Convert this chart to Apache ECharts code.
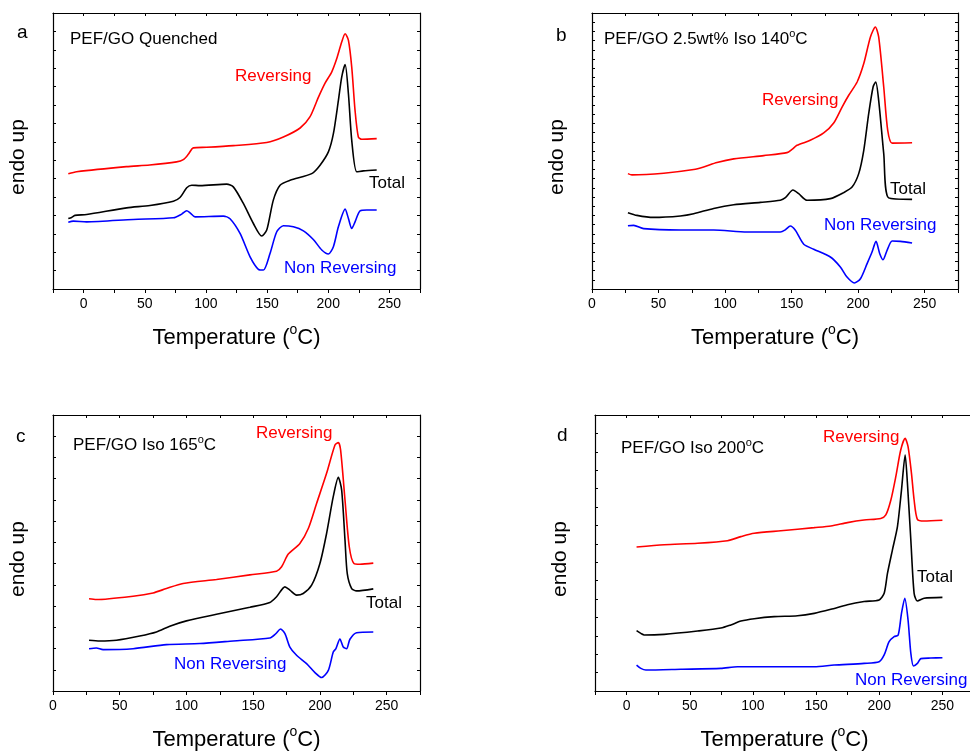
<!DOCTYPE html>
<html>
<head>
<meta charset="utf-8">
<script src="https://cdn.jsdelivr.net/npm/echarts@6/dist/echarts.min.js"></script>
<style>html,body{margin:0;padding:0;background:#fff}#c{width:970px;height:753px}</style>
</head>
<body>
<div id="c"></div>
<script>
// ---- Data (temperature °C, signal in arbitrary units) ----
const xTickLabels = [0, 50, 100, 150, 200, 250];
const panelTitles = ['{n|PEF/GO Quenched}', '{n|PEF/GO 2.5wt% Iso 140}{sup|o}{n|C}', '{n|PEF/GO Iso 165}{sup|o}{n|C}', '{n|PEF/GO Iso 200}{sup|o}{n|C}'];
const panelLetters = ['a', 'b', 'c', 'd'];
const seriesNames = ['Reversing', 'Total', 'Non Reversing'];

const aReversing = [[-12.5,6.26],[-5.7,6.37],[35,6.65],[54,6.74],[76,6.91],[81.5,7.03],[85.6,7.32],[89.7,7.67],[100.6,7.70],[122.4,7.79],[149.7,7.96],[163.3,8.26],[177,8.75],[185,9.35],[192,10.43],[197.4,11.19],[202.8,11.79],[206.9,12.51],[211,13.42],[213.8,13.87],[216.5,13.51],[219.2,12.06],[221.9,9.71],[224.6,8.26],[227.4,8.14],[239.6,8.17]];
const aTotal = [[-12.5,3.83],[-9.8,3.89],[-7.1,4.0],[2.5,4.05],[35.2,4.41],[54.3,4.54],[73.4,4.77],[78.8,4.97],[84.3,5.50],[88.4,5.64],[95.2,5.62],[117,5.70],[122.4,5.55],[130.6,4.65],[138.8,3.56],[145.6,2.88],[149.7,3.20],[155.1,4.83],[160.6,5.64],[168.8,5.91],[186.5,6.27],[193.3,6.73],[200.1,7.45],[204.2,8.44],[208.3,10.25],[211,11.52],[213.8,12.2],[216.5,10.6],[219.2,8.08],[223.3,6.37],[228.7,6.42],[239.6,6.47]];
const aNonReversing = [[-12.5,3.63],[-8.4,3.69],[2.5,3.65],[40.6,3.78],[73.4,3.87],[80.2,4.07],[84.3,4.25],[87,4.14],[91.1,3.92],[114.2,3.96],[119.7,3.82],[127.9,3.02],[136.1,1.75],[142.9,1.07],[147,1.03],[152.4,1.93],[157.9,3.11],[163.3,3.44],[171.5,3.38],[179.7,3.16],[187.8,2.69],[194.7,2.12],[200.1,1.90],[204.2,2.30],[208.3,3.38],[213.8,4.34],[216.5,3.83],[219.2,3.29],[221.9,3.65],[226,4.25],[231.5,4.29],[239.6,4.29]];

const bReversing = [[27,6.27],[30,6.20],[53.9,6.29],[76.4,6.49],[83.9,6.63],[93.9,6.87],[106.5,7.07],[129,7.25],[146.5,7.41],[150.3,7.59],[154,7.81],[164,8.08],[174.1,8.48],[181.6,9.02],[187.9,9.89],[192.9,10.53],[199.2,11.25],[204.2,12.25],[209.2,13.70],[212.9,14.24],[215.4,13.70],[219.2,10.98],[222.2,8.62],[225.5,7.93],[240.5,7.95]];
const bTotal = [[27,4.15],[33.8,4.0],[46.3,3.89],[66.4,3.97],[76.4,4.09],[91.4,4.38],[106.5,4.58],[126.5,4.71],[141.5,4.82],[145.3,4.96],[151,5.38],[155.3,5.18],[161.6,4.82],[179.1,4.91],[189.1,5.24],[195.4,5.54],[200.4,6.27],[204.2,7.54],[207.9,9.53],[211.2,10.98],[213.2,11.25],[215.4,10.25],[219.2,7.36],[222.9,4.95],[240.5,4.87]];
const bNonReversing = [[27,3.44],[31.3,3.46],[38.8,3.28],[66.4,3.21],[91.4,3.21],[116.5,3.10],[141.5,3.10],[145.3,3.22],[149,3.42],[152.8,3.19],[159.1,2.43],[166.6,2.16],[179.1,1.74],[186.6,1.20],[191.6,0.65],[197.1,0.33],[201.7,0.56],[206.7,1.38],[210.4,2.01],[213.4,2.59],[216.2,1.92],[218.7,1.59],[221.7,2.10],[225.5,2.61],[231.7,2.59],[240.5,2.50]];

const cReversing = [[27,5.01],[32.5,4.97],[60,5.15],[75,5.33],[85,5.57],[97.5,5.84],[122.5,6.06],[147.5,6.31],[167.5,6.51],[171.3,6.75],[176.3,7.44],[185,8.02],[191.3,8.83],[197.5,10.19],[205,11.83],[211.3,13.37],[213.8,13.50],[215.5,13.10],[218.8,10.38],[222,7.84],[225.5,6.93],[230,6.89],[240,6.95]];
const cTotal = [[27,2.76],[35,2.72],[47.5,2.76],[65,2.99],[77.5,3.21],[87.5,3.52],[100,3.81],[122.5,4.17],[147.5,4.55],[162.5,4.81],[167.5,5.12],[173.8,5.66],[177.5,5.48],[182.5,5.21],[187.5,5.30],[193.8,5.75],[200,6.93],[205,8.56],[210,10.56],[213.8,11.61],[216.3,10.92],[218.8,8.20],[220.5,6.38],[223.8,5.57],[227.5,5.44],[240,5.55]];
const cNonReversing = [[27,2.30],[32.5,2.34],[37.5,2.25],[60,2.30],[85,2.52],[110,2.58],[135,2.72],[162.5,2.88],[167,3.12],[170.5,3.37],[173.8,3.12],[177.5,2.39],[182.5,1.94],[190,1.49],[196.3,1.00],[201.3,0.73],[206.3,1.12],[210,2.12],[212,2.30],[215,2.83],[217.5,2.39],[220,2.30],[222.5,2.81],[227.5,3.17],[240,3.21]];

const dReversing = [[7.9,7.83],[29.8,7.95],[56.2,8.03],[79.9,8.17],[90.5,8.39],[101,8.57],[122.1,8.71],[148.5,8.88],[161.7,8.97],[174.8,9.15],[188,9.29],[201.2,9.38],[205.2,9.57],[209.2,10.38],[213.1,11.65],[217,13.10],[220.5,13.73],[222.8,13.28],[225.5,11.83],[227.6,10.38],[230.2,9.33],[235.5,9.24],[250,9.28]];
const dTotal = [[7.9,3.28],[11.3,3.13],[14,3.04],[29.8,3.08],[56.2,3.26],[74.6,3.42],[82.5,3.59],[90.5,3.80],[101,3.93],[116.8,4.04],[135.3,4.09],[148.5,4.22],[161.7,4.44],[174.8,4.69],[188,4.86],[199.9,4.95],[203.9,5.31],[206.5,6.39],[210.4,7.66],[214.4,8.93],[217.6,10.92],[220.5,12.83],[222.3,11.29],[225,8.21],[227.6,5.31],[230.2,4.89],[235.5,5.04],[250,5.09]];
const dNonReversing = [[7.9,1.41],[11.3,1.23],[15.3,1.14],[43,1.18],[74.6,1.23],[87.8,1.32],[108.9,1.32],[148.5,1.32],[164.3,1.41],[188,1.50],[199.9,1.59],[203.9,1.96],[207.8,2.68],[211.8,2.95],[215,3.04],[217.6,4.22],[220.2,5.04],[222.8,3.86],[225,2.05],[227.1,1.36],[230.2,1.50],[232.9,1.76],[240.8,1.79],[250,1.81]];

const panelData = [
  [aReversing, aTotal, aNonReversing],
  [bReversing, bTotal, bNonReversing],
  [cReversing, cTotal, cNonReversing],
  [dReversing, dTotal, dNonReversing]
];
// ---- Layout / style ----
const FONT = "'Liberation Sans', Arial, sans-serif";
const colors = ['#ff0000', '#000000', '#0000ff'];
const panels = [
  {left: 53, top: 13, width: 367, height: 276, xmin: -25, yInt: 1},
  {left: 592, top: 13, width: 366, height: 276, xmin: 0, yInt: 0.5},
  {left: 53, top: 415, width: 367, height: 276, xmin: 0, yInt: 15/13},
  {left: 595, top: 415, width: 379, height: 276, xmin: -25, yInt: 1}
];
const titleRich = {
  n: {fontSize: 17, fontFamily: FONT, color: '#000', lineHeight: 20, verticalAlign: 'bottom'},
  sup: {fontSize: 11, fontFamily: FONT, color: '#000', lineHeight: 12, verticalAlign: 'top'}
};
const axisRich = {
  n: {fontSize: 22, fontFamily: FONT, color: '#000', lineHeight: 26, verticalAlign: 'bottom'},
  sup: {fontSize: 14, fontFamily: FONT, color: '#000', lineHeight: 15, verticalAlign: 'top'}
};

// annotation placements (pixel positions of the text labels)
const notes = [
  {letter: [17, 33], title: [70, 38], rev: [235, 76], tot: [369, 183], non: [284, 268]},
  {letter: [556, 36], title: [604, 38], rev: [762, 100], tot: [890, 189], non: [824, 225]},
  {letter: [16, 437], title: [73, 444], rev: [256, 433], tot: [366, 603], non: [174, 664]},
  {letter: [557, 436], title: [621, 447], rev: [823, 437], tot: [917, 577], non: [855, 680]}
];

const grids = [], xAxes = [], yAxes = [], series = [], graphics = [];
panels.forEach((p, i) => {
  grids.push({left: p.left, top: p.top, width: p.width, height: p.height, containLabel: false, outerBoundsMode: 'none'});
  const xBase = {gridIndex: i, type: 'value', min: p.xmin, max: 275, interval: 25,
    axisLine: {show: true, onZero: false, lineStyle: {color: '#000', width: 1.2}},
    splitLine: {show: false}};
  xAxes.push(Object.assign({}, xBase, {position: 'bottom',
    axisTick: {show: true, inside: false, length: 4, lineStyle: {color: '#000'}},
    axisLabel: {show: true, customValues: xTickLabels, color: '#000', fontSize: 14, fontFamily: FONT, margin: 8},
    name: '{n|Temperature (}{sup|o}{n|C)}', nameLocation: 'middle', nameGap: 34,
    nameTextStyle: {fontSize: 22, fontFamily: FONT, color: '#000', rich: axisRich}}));
  xAxes.push(Object.assign({}, xBase, {position: 'top',
    axisTick: {show: true, inside: true, length: 3, lineStyle: {color: '#000'}},
    axisLabel: {show: false}}));
  const yBase = {gridIndex: i, type: 'value', min: 0, max: 15, interval: p.yInt,
    axisLine: {show: true, onZero: false, lineStyle: {color: '#000', width: 1.2}},
    axisTick: {show: true, inside: true, length: 3, lineStyle: {color: '#000'}},
    axisLabel: {show: false}, splitLine: {show: false}};
  yAxes.push(Object.assign({}, yBase, {position: 'left',
    name: 'endo up', nameLocation: 'middle', nameGap: 24, nameRotate: 90,
    nameTextStyle: {fontSize: 21, fontFamily: FONT, color: '#000', padding: [0, 12, 0, 0]}}));
  yAxes.push(Object.assign({}, yBase, {position: 'right'}));
  panelData[i].forEach((d, k) => {
    series.push({type: 'line', name: seriesNames[k], xAxisIndex: 2 * i, yAxisIndex: 2 * i,
      data: d, showSymbol: false, smooth: 0.25, animation: false,
      lineStyle: {color: colors[k], width: 1.6}, itemStyle: {color: colors[k]}});
  });
  const n = notes[i];
  graphics.push({type: 'text', x: n.letter[0], y: n.letter[1], style: {text: panelLetters[i], font: '19px ' + FONT, fill: '#000', textVerticalAlign: 'middle'}});
  graphics.push({type: 'text', x: n.title[0], y: n.title[1], style: {text: panelTitles[i], font: '17px ' + FONT, fill: '#000', textVerticalAlign: 'middle', rich: titleRich}});
  graphics.push({type: 'text', x: n.rev[0], y: n.rev[1], style: {text: seriesNames[0], font: '17px ' + FONT, fill: colors[0], textVerticalAlign: 'middle'}});
  graphics.push({type: 'text', x: n.tot[0], y: n.tot[1], style: {text: seriesNames[1], font: '17px ' + FONT, fill: colors[1], textVerticalAlign: 'middle'}});
  graphics.push({type: 'text', x: n.non[0], y: n.non[1], style: {text: seriesNames[2], font: '17px ' + FONT, fill: colors[2], textVerticalAlign: 'middle'}});
});

const chart = echarts.init(document.getElementById('c'), null, {renderer: 'canvas'});
chart.setOption({
  backgroundColor: '#fff',
  animation: false,
  textStyle: {fontFamily: FONT},
  grid: grids, xAxis: xAxes, yAxis: yAxes, series: series,
  graphic: graphics
});
</script>
</body>
</html>
